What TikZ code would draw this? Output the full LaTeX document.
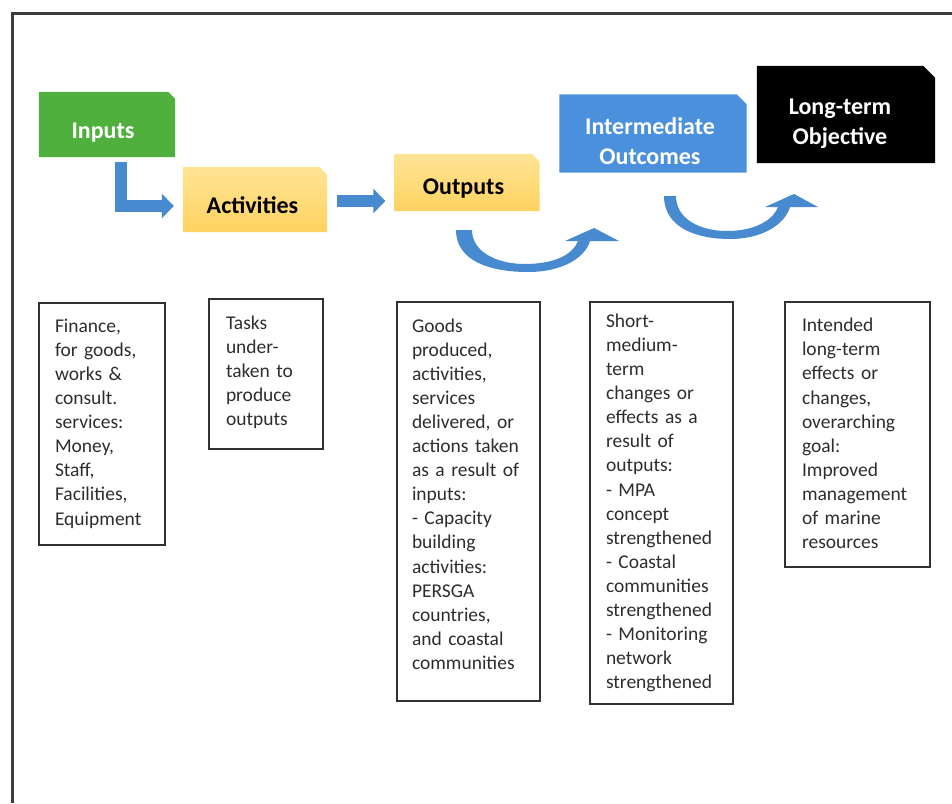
\documentclass[tikz,border=0pt]{standalone}
\usepackage{fontspec}
\setmainfont{Carlito}
\usetikzlibrary{arrows.meta}
\definecolor{ingreen}{RGB}{80,176,62}
\definecolor{yeltop}{RGB}{255,228,150}
\definecolor{yelbot}{RGB}{255,210,95}
\definecolor{imblue}{RGB}{74,144,220}
\definecolor{arrowblue}{RGB}{72,138,208}
\definecolor{boxline}{RGB}{50,50,50}
\definecolor{bodytext}{RGB}{45,45,45}
\definecolor{framecol}{RGB}{60,60,60}
\newcommand{\cutbox}[3]{\path[#3] (#1.south west) -- (#1.north west) -- ([xshift=-#2]#1.north east) -- ([yshift=-#2]#1.north east) -- (#1.south east) -- cycle;}
\begin{document}
\begin{tikzpicture}[x=1pt,y=-1pt,
  hbox/.style={rectangle, inner sep=0pt, draw=none},
  htext/.style={font=\fontsize{24}{30}\selectfont\bfseries, align=center, inner sep=0pt},
  tbox/.style={draw=boxline, line width=1.8pt, align=left,
    font=\fontsize{19.5}{24.1}\selectfont, text=bodytext, inner ysep=0pt},
  barrow/.style={draw=arrowblue, line width=12pt, line join=miter,
    -{Triangle[length=12pt,width=24pt]}},
  cfill/.style={fill=arrowblue}
]
\useasboundingbox (0,0) rectangle (952,803);
\draw[framecol, line width=3pt] (952,13) -- (12,13) -- (12,803);

% heading boxes
\node[hbox, minimum width=136pt, minimum height=65pt] (in) at (107,124.5) {};
\node[hbox, minimum width=144pt, minimum height=65pt] (act) at (255,199.5) {};
\node[hbox, minimum width=145pt, minimum height=57pt] (out) at (467,182.5) {};
\node[hbox, minimum width=187pt, minimum height=78pt] (im) at (653,133.5) {};
\node[hbox, minimum width=178pt, minimum height=97pt] (lt) at (846,114.5) {};
\cutbox{in}{7pt}{fill=ingreen}
\cutbox{act}{8pt}{top color=yeltop, bottom color=yelbot}
\cutbox{out}{8pt}{top color=yeltop, bottom color=yelbot}
\cutbox{im}{10pt}{fill=imblue}
\cutbox{lt}{12pt}{fill=black}

\node[htext, text=white] (inT) at (103,133) {Inputs};
\node[htext, text=black] (actT) at (252.5,205) {Activities};
\node[htext, text=black] (outT) at (463.5,189) {Outputs};
\node[htext, text=white] (imT) at (650,141.5) {Intermediate\\Outcomes};
\node[htext, text=white] (ltT) at (840,123.5) {Long-term\\Objective};

% arrows
\draw[barrow, shorten <=5pt, shorten >=9pt] ([xshift=14pt]in.south) |- ([yshift=-6.5pt]act.west);
\draw[barrow, shorten <=10pt, shorten >=9pt] ([yshift=-1.5pt]act.east) -- ([yshift=-1.5pt]act.east -| out.west);

% curved up arrows (outputs -> intermediate, intermediate -> long-term)
\fill[cfill] (456,230) .. controls (456,262) and (492,272) .. (528,272)
  .. controls (562,272) and (585,258) .. (590,241)
  -- (619,241) -- (594,228) -- (565,241) -- (578,241)
  .. controls (572,256) and (552,264) .. (525,264)
  .. controls (497,264) and (472,252) .. (472,230) -- cycle;
\fill[cfill] (664,196) .. controls (664,228) and (697,239) .. (730,239)
  .. controls (763,239) and (785,224) .. (790,207)
  -- (818,207) -- (794,194) -- (765,207) -- (778,207)
  .. controls (772,222) and (752,231) .. (727,231)
  .. controls (700,231) and (676,219) .. (676,196) -- cycle;

% description boxes
\node[tbox, inner xsep=16pt, text width=94pt, minimum height=242pt] (d1) at (102,424)
  {Finance,\\for goods,\\works \&\\consult.\\services:\\Money,\\Staff,\\Facilities,\\Equipment\par\vspace*{1pt}};
\node[tbox, inner xsep=17pt, text width=80pt, minimum height=150pt] (d2) at (266,374)
  {Tasks\\under-\\taken to\\produce\\outputs\par\vspace*{4pt}};
\node[tbox, inner xsep=15pt, text width=113pt, minimum height=399pt] (d3) at (468.5,501.5)
  {Goods\\produced,\\activities,\\services\\delivered, or\\actions taken\\as a result of\\inputs:\\- Capacity\\building\\activities:\\PERSGA\\countries,\\and coastal\\communities\par\vspace*{15pt}};
\node[tbox, inner xsep=16pt, text width=111pt, minimum height=402pt] (d4) at (661.5,503)
  {Short-\\medium-\\term\\changes or\\effects as a\\result of\\outputs:\\- MPA\\concept\\strengthened\\- Coastal\\communities\\strengthened\\- Monitoring\\network\\strengthened};
\node[tbox, inner xsep=17pt, text width=111pt, minimum height=265pt] (d5) at (857.5,434.5)
  {Intended\\long-term\\effects or\\changes,\\overarching\\goal:\\Improved\\management\\of marine\\resources\par\vspace*{2pt}};
\end{tikzpicture}
\end{document}
